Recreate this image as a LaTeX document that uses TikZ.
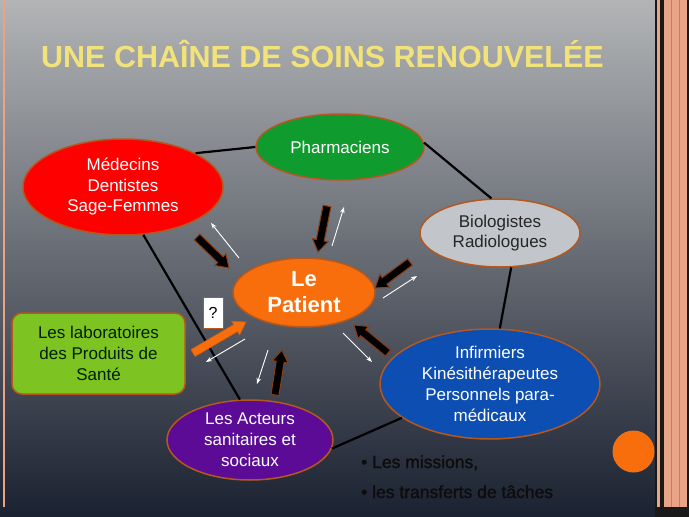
\documentclass[tikz,border=0pt]{standalone}
\usepackage{fontspec}
\setmainfont{Liberation Sans}
\newfontfamily\heavyfont[FakeBold=1.5]{Liberation Sans}
\usetikzlibrary{shapes.geometric,arrows.meta,calc}
\definecolor{bgtop}{HTML}{B2B4B6}
\definecolor{bgmid}{HTML}{6A6F77}
\definecolor{bgbot}{HTML}{1A2130}
\definecolor{salmon}{HTML}{E9A488}
\definecolor{rim}{HTML}{B5581F}
\definecolor{titley}{HTML}{F2E27A}
\definecolor{cred}{HTML}{FF0000}
\definecolor{cgreen}{HTML}{109B2E}
\definecolor{cgray}{HTML}{C2C5C9}
\definecolor{corange}{HTML}{F86E0C}
\definecolor{cblue}{HTML}{0C4EB2}
\definecolor{cpurple}{HTML}{5B0B96}
\definecolor{clime}{HTML}{7DC321}
\definecolor{arrowrim}{HTML}{8E3C12}
\newcommand{\fatarrow}[3]{%
  \coordinate (fah) at ($(#3)!12pt!(#2)$);
  \path[#1] ($(#2)!4pt!90:(#3)$) -- ($(fah)!4pt!90:(#3)$) -- ($(fah)!8pt!90:(#3)$) -- (#3)
    -- ($(fah)!8pt!-90:(#3)$) -- ($(fah)!4pt!-90:(#3)$) -- ($(#2)!4pt!-90:(#3)$) -- cycle;}
\begin{document}
\begin{tikzpicture}[x=1pt,y=-1pt,
  bubble/.style={ellipse, draw=rim, line width=1.5pt, inner sep=0pt, inner ysep=-12pt, align=center,
    font=\fontsize{17}{20.5}\selectfont},
  link/.style={black, line width=2.2pt},
  blackarrow/.style={fill=black, draw=arrowrim, line width=1pt},
  orangearrow/.style={fill=corange, draw=corange!85!black, line width=0.6pt},
  thinarrow/.style={white, line width=0.9pt, -{Stealth[length=6pt,width=4.5pt]}},
  bullettext/.style={anchor=base west, inner sep=0pt, text=black!95, font=\heavyfont\fontsize{17.5}{21}\selectfont}]
% background and frame
\useasboundingbox (0,0) rectangle (689,517);
\shade[top color=bgtop, middle color=bgmid, bottom color=bgbot] (0,0) rectangle (689,517);
\fill[salmon] (2.5,0) rectangle (5,507);
\fill[black!90] (655,0) rectangle (689,517);
\fill[salmon] (656.5,0) rectangle (659.5,507);
\fill[salmon] (664,0) rectangle (687,507);
\draw[salmon!80!black, line width=0.5pt] (671,0) -- (671,507) (679,0) -- (679,507);
% title
\node[anchor=base west, inner sep=0pt, text=titley, font=\bfseries\fontsize{30.5}{36}\selectfont] (title) at (41,67) {UNE CHAÎNE DE SOINS RENOUVELÉE};
% nodes
\node[bubble, fill=cred, text=white, minimum width=200pt, minimum height=96pt] (med) at (123,187) {Médecins\\Dentistes\\Sage-Femmes};
\node[bubble, fill=cgreen, text=white, minimum width=168pt, minimum height=66pt] (pha) at (340,147) {Pharmaciens};
\node[bubble, fill=cgray, text=black!85, minimum width=160pt, minimum height=68pt] (bio) at (500,233) {Biologistes\\Radiologues};
\node[bubble, fill=corange, text=white, minimum width=142pt, minimum height=69pt, font=\bfseries\fontsize{22}{26}\selectfont] (pat) at (304,292.5) {Le\\Patient};
\node[bubble, fill=cblue, text=white, minimum width=220pt, minimum height=110pt, font=\fontsize{17}{21}\selectfont] (inf) at (490,384) {Infirmiers\\Kinésithérapeutes\\Personnels para-\\médicaux};
\node[bubble, fill=cpurple, text=white, minimum width=166pt, minimum height=80pt, font=\fontsize{17}{21}\selectfont] (act) at (250,440) {Les Acteurs\\sanitaires et\\sociaux};
\node[draw=rim, line width=1.5pt, fill=clime, rounded corners=10pt, minimum width=173pt, minimum height=81pt, align=center, text={black!80!green!60!black}, font=\fontsize{17}{21}\selectfont] (lab) at (98.5,353.5) {Les laboratoires\\des Produits de\\Santé};
\node[draw=rim, line width=1pt, fill=white, minimum width=20pt, minimum height=31pt, inner sep=0pt, font=\fontsize{16}{18}\selectfont] (q) at (213,312.5) {?};
\node[circle, fill=corange, minimum size=42pt, inner sep=0pt] (dot) at (633.5,451.5) {};
% network links
\draw[link] (med.25) -- (pha.180);
\draw[link] (pha.3) -- (bio.104);
\draw[link] (bio.-72) -- (inf.80);
\draw[link] (inf.201) -- (act.-6);
\draw[link] (med.-67) -- (act.104);
% fat arrows toward the patient
\coordinate (a1s) at (197,237); \coordinate (a1e) at (229,268);
\coordinate (a2s) at (327,206); \coordinate (a2e) at (318,252);
\coordinate (a3s) at (410,262); \coordinate (a3e) at (375,288);
\coordinate (a4s) at (388,353); \coordinate (a4e) at (354,325);
\coordinate (a5s) at (275,395); \coordinate (a5e) at (282,350);
\coordinate (a6s) at (193,353); \coordinate (a6e) at (246,322);
\fatarrow{blackarrow}{a1s}{a1e}
\fatarrow{blackarrow}{a2s}{a2e}
\fatarrow{blackarrow}{a3s}{a3e}
\fatarrow{blackarrow}{a4s}{a4e}
\fatarrow{blackarrow}{a5s}{a5e}
\fatarrow{orangearrow}{a6s}{a6e}
% thin white arrows from the patient
\coordinate (w1s) at (239,258); \coordinate (w1e) at (211,223);
\coordinate (w2s) at (332,246); \coordinate (w2e) at (344,207);
\coordinate (w3s) at (383,298); \coordinate (w3e) at (417,276);
\coordinate (w4s) at (343,333); \coordinate (w4e) at (372,362);
\coordinate (w5s) at (268,350); \coordinate (w5e) at (257,384);
\coordinate (w6s) at (245,339); \coordinate (w6e) at (206,362);
\draw[thinarrow] (w1s) -- (w1e);
\draw[thinarrow] (w2s) -- (w2e);
\draw[thinarrow] (w3s) -- (w3e);
\draw[thinarrow] (w4s) -- (w4e);
\draw[thinarrow] (w5s) -- (w5e);
\draw[thinarrow] (w6s) -- (w6e);
% bullet text
\node[bullettext] (b1) at (361,468) {• Les missions,};
\node[bullettext] (b2) at (361,498) {• les transferts de tâches};
\end{tikzpicture}
\end{document}
